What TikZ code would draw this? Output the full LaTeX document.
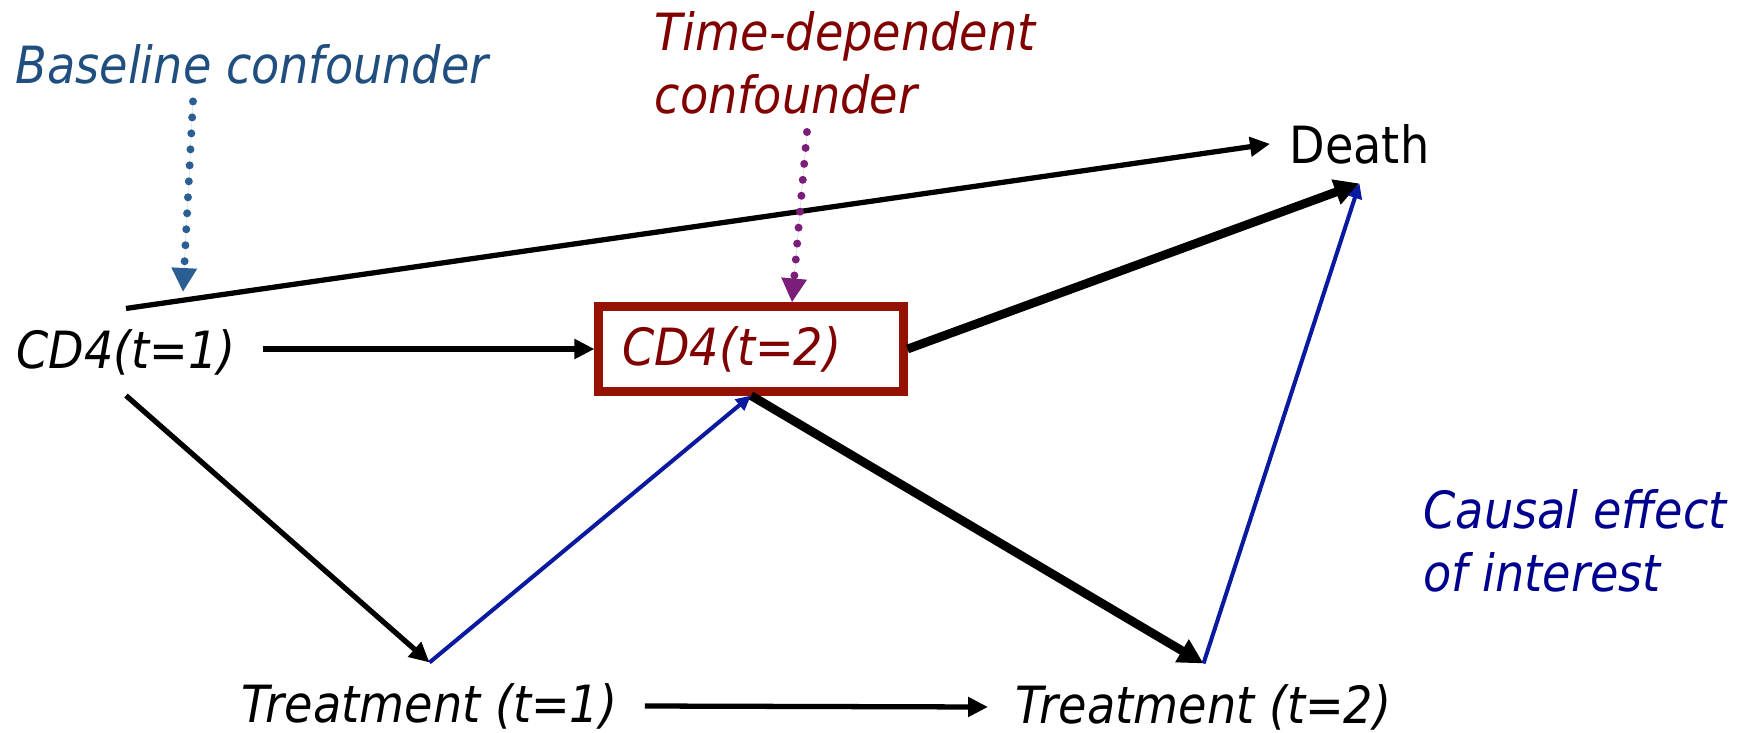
\documentclass[tikz,border=0pt]{standalone}
\usepackage{fontspec}
\setmainfont{DejaVu Sans Condensed}
\usetikzlibrary{arrows.meta}

\definecolor{basecol}{HTML}{1F4E7F}
\definecolor{basedot}{HTML}{2B5F94}
\definecolor{tdcred}{HTML}{800000}
\definecolor{boxred}{HTML}{961200}
\definecolor{tdcdot}{HTML}{7A1E7A}
\definecolor{effblue}{HTML}{0A1AA0}
\definecolor{effnavy}{HTML}{00008E}
\newcommand{\diagfont}{\fontsize{14.6pt}{17.9pt}\selectfont}

\begin{document}
\begin{tikzpicture}[
                font=\diagfont\itshape,
                var/.style={inner xsep=0.27cm, inner ysep=0.2cm},
                note/.style={inner sep=0pt, align=left},
                box/.style={draw=boxred, line width=2.3pt, text=tdcred, text width=2.58cm, align=left, inner xsep=0.235cm, minimum height=0.85cm},
                arrow/.style={-{Triangle[length=0.2cm, width=0.19cm]}, line width=1.5pt},
                thickarrow/.style={-{Triangle[length=0.25cm, width=0.25cm]}, line width=2.5pt},
                bluearrow/.style={-{Triangle[length=0.15cm, width=0.14cm]}, line width=1.15pt, draw=effblue},
                dotarrow/.style={-{Triangle[length=0.24cm, width=0.24cm]}, line width=0.08cm, line cap=round, dash pattern=on 0pt off 0.16cm}
            ]
                \useasboundingbox (0,0) rectangle (17.43,7.32);

                % Nodes
                \node[note, anchor=base west, text=basecol] (base) at (0.15,6.49) {Baseline confounder};
                \node[note, anchor=south west, text=tdcred] (tdc) at (6.54,6.17) {Time-dependent\\confounder};
                \node[inner sep=0.19cm, anchor=base west, font=\diagfont] (death) at (12.70,5.69) {Death};
                \node[var] (cd1) at (1.26,3.80) {CD4(t=1)};
                \node[box] (cd2) at (7.51,3.83) {CD4(t=2)};
                \node[var] (t1) at (4.295,0.26) {Treatment (t=1)};
                \node[var] (t2) at (12.035,0.25) {Treatment (t=2)};
                \node[note, anchor=south west, text=effnavy] (effect) at (14.23,1.39) {Causal effect\\of interest};
                \coordinate (basetip) at (1.83,4.40);

                % Arrows
                \draw[arrow] (cd1.north) -- (death.west);
                \draw[arrow] (cd1.east |- cd2.west) -- (cd2.west);
                \draw[arrow] (cd1.south) -- (t1.north);
                \draw[arrow] (t1.east) -- (t2.west);
                \draw[bluearrow] (t1.north) -- (cd2.south);
                \draw[thickarrow] (cd2.east) -- (death.south);
                \draw[thickarrow] (cd2.south) -- (t2.north);
                \draw[bluearrow] (t2.north) -- (death.south);

                % Confounder pointers
                \draw[dotarrow, draw=basedot, fill=basedot] ([xshift=1.78cm, yshift=-0.17cm]base.south west) -- (basetip);
                \draw[dotarrow, draw=tdcdot, fill=tdcdot] ([xshift=1.53cm, yshift=-0.17cm]tdc.south west) -- ([xshift=0.41cm]cd2.north);
            \end{tikzpicture}
\end{document}
